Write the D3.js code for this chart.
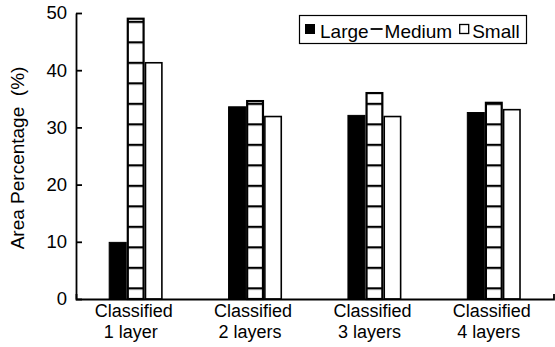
<!DOCTYPE html>
<html><head><meta charset="utf-8">
<script src="https://cdn.jsdelivr.net/npm/d3@7"></script>
<style>
html,body{margin:0;padding:0;background:#fff;}
svg text{font-family:"Liberation Sans",Arial,Helvetica,sans-serif;fill:#000;}
</style></head>
<body>
<svg id="chart" width="555" height="347"></svg>
<script>
const categories = ["Classified\n1 layer", "Classified\n2 layers", "Classified\n3 layers", "Classified\n4 layers"];
const series = ["Large", "Medium", "Small"];
const largeValues = [9.9, 33.6, 32.1, 32.6];
const mediumValues = [49.0, 34.6, 36.0, 34.3];
const smallValues = [41.3, 31.9, 31.9, 33.1];
const yTicks = [0, 10, 20, 30, 40, 50];
const yTitle = "Area Percentage  (%)";

const values = {Large: largeValues, Medium: mediumValues, Small: smallValues};
const svg = d3.select("#chart");

const x = d3.scaleBand().domain(categories).range([76, 553.5]).padding(0);
const y = d3.scaleLinear().domain([0, 50]).range([299, 13]);
const sub = d3.scaleBand().domain(series).range([-27, 27]).padding(0);

// stripe pattern for Medium
const defs = svg.append("defs");
const period = 20.5;
const anchor = 288.3;
const pat = defs.append("pattern").attr("id", "stripes")
  .attr("patternUnits", "userSpaceOnUse")
  .attr("x", 0).attr("y", anchor % period - 1)
  .attr("width", 20).attr("height", period);
pat.append("rect").attr("width", 20).attr("height", period).attr("fill", "#fff");
pat.append("rect").attr("x", 0).attr("y", 0).attr("width", 20).attr("height", 2.2).attr("fill", "#000");

const style = {
  Large: {fill: "#000", stroke: "#000", sw: 1},
  Medium: {fill: "url(#stripes)", stroke: "#000", sw: 2.2},
  Small: {fill: "#fff", stroke: "#000", sw: 1.6}
};

const rows = [];
categories.forEach((c, i) => series.forEach(s => rows.push({c, s, v: values[s][i]})));

svg.append("g").selectAll("rect").data(rows).join("rect")
  .attr("x", d => x(d.c) + x.bandwidth() / 2 + sub(d.s) + style[d.s].sw / 2)
  .attr("width", d => sub.bandwidth() - style[d.s].sw)
  .attr("y", d => y(d.v))
  .attr("height", d => y(0) - y(d.v))
  .attr("fill", d => style[d.s].fill)
  .attr("stroke", d => style[d.s].stroke)
  .attr("stroke-width", d => style[d.s].sw);

// y axis (ticks inward)
const yAxis = svg.append("g").attr("transform", "translate(76,0)")
  .call(d3.axisLeft(y).tickValues(yTicks).tickSizeInner(-6).tickSizeOuter(0).tickPadding(9));
yAxis.selectAll("path,line").attr("stroke", "#000").attr("stroke-width", 1.8);
yAxis.selectAll("text").attr("font-size", 18.5).attr("font-family", "Liberation Sans, Arial, sans-serif");

// x axis
const xAxis = svg.append("g").attr("transform", "translate(0,299)")
  .call(d3.axisBottom(x).tickSizeInner(0).tickSizeOuter(-5).tickFormat(""));
xAxis.select("path").attr("stroke", "#000").attr("stroke-width", 1.8);
xAxis.selectAll(".tick").remove();

// category labels
const lab = svg.append("g").selectAll("text").data(categories).join("text")
  .attr("text-anchor", "middle").attr("font-size", 18)
  .attr("transform", d => `translate(${x(d) + x.bandwidth() / 2 - 2},0)`);
lab.each(function(d) {
  const parts = d.split("\n");
  const t = d3.select(this);
  parts.forEach((p, i) => t.append("tspan").attr("x", i ? -3 : 0).attr("y", 317 + i * 20.5).text(p));
});

// y title
svg.append("text").attr("transform", "translate(24,158) rotate(-90)")
  .attr("text-anchor", "middle").attr("font-size", 19)
  .attr("xml:space", "preserve").style("white-space", "pre").text(yTitle);

// legend
const lg = svg.append("g");
lg.append("rect").attr("x", 299.5).attr("y", 15.5).attr("width", 227).attr("height", 28)
  .attr("fill", "#fff").attr("stroke", "#000").attr("stroke-width", 1.2);
const fs = 19, base = 37.5;
let cx = 305;
lg.append("rect").attr("x", cx).attr("y", 24).attr("width", 10).attr("height", 10).attr("fill", "#000");
cx += 15;
let t = lg.append("text").attr("x", cx).attr("y", base).attr("font-size", fs).text(series[0]);
cx += t.node().getComputedTextLength() + 2;
lg.append("line").attr("x1", cx).attr("x2", cx + 12).attr("y1", 29).attr("y2", 29).attr("stroke", "#000").attr("stroke-width", 1.8);
cx += 14;
t = lg.append("text").attr("x", cx).attr("y", base).attr("font-size", fs).text(series[1]);
cx += t.node().getComputedTextLength() + 7;
lg.append("rect").attr("x", cx + 0.5).attr("y", 24.5).attr("width", 9).attr("height", 9).attr("fill", "#fff").attr("stroke", "#000").attr("stroke-width", 1.3);
cx += 13;
lg.append("text").attr("x", cx).attr("y", base).attr("font-size", fs).text(series[2]);
</script>
</body></html>
